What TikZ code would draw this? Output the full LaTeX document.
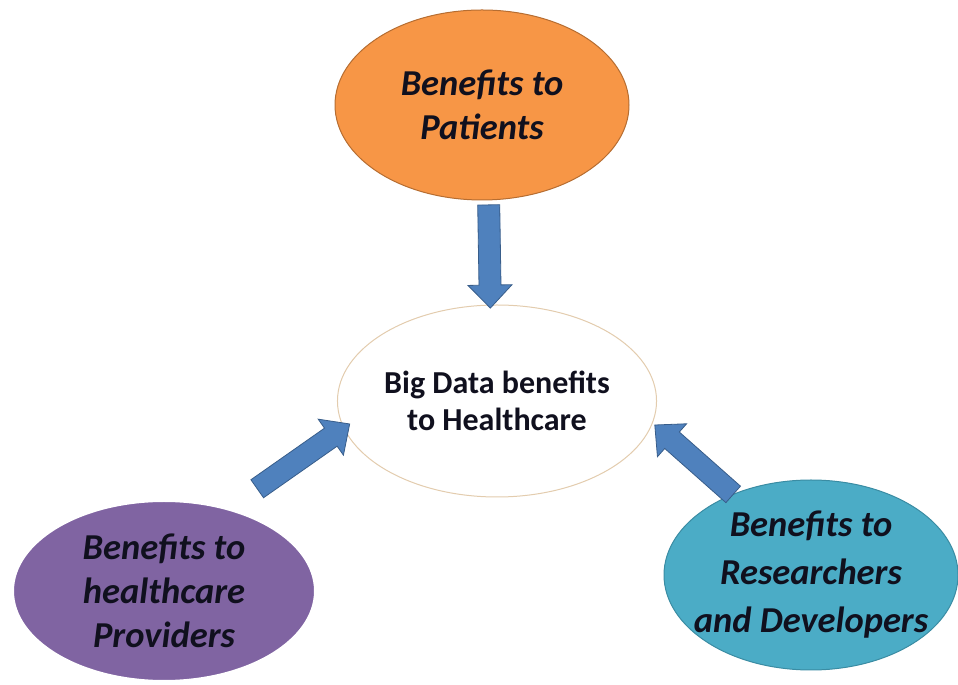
\documentclass[tikz,border=0pt]{standalone}
\usepackage{fontspec}
\setmainfont{Carlito}
\usetikzlibrary{calc,shapes.geometric}

\definecolor{patfill}{HTML}{F79646}
\definecolor{patedge}{HTML}{B66D31}
\definecolor{provfill}{HTML}{8064A2}
\definecolor{resfill}{HTML}{4BACC6}
\definecolor{resedge}{HTML}{3A8CA3}
\definecolor{hubedge}{HTML}{E3CCAE}
\definecolor{arrowfill}{HTML}{4F81BD}
\definecolor{arrowedge}{HTML}{385D8A}
\definecolor{ink}{HTML}{10101E}

\tikzset{
  blob/.style={ellipse, inner sep=0pt, outer sep=0pt, align=center, text=ink,
    font=\bfseries\itshape\fontsize{36.5}{44}\selectfont},
  hub/.style={ellipse, inner sep=0pt, outer sep=0pt, align=center, text=ink,
    fill=white, draw=hubedge, line width=1pt,
    font=\bfseries\fontsize{32}{37}\selectfont},
  tailgap/.store in=\tailgap, tipgap/.store in=\tipgap,
  tailgap=0pt, tipgap=0pt,
  % block arrow from start to target
  fatarrow/.style={fill=arrowfill, draw=arrowedge, line width=0.8pt,
    to path={let \p1=($(\tikztotarget)-(\tikztostart)$),
      \n1={atan2(\y1,\x1)},
      \n2={veclen(\x1,\y1)-(\tipgap)},
      \n3={veclen(\x1,\y1)-(\tipgap)-\headlen} in
      ($(\tikztostart)+(\n1:\tailgap)+(\n1+90:\shafthalf)$)
      -- ($(\tikztostart)+(\n1:\n3)+(\n1+90:\shafthalf)$)
      -- ($(\tikztostart)+(\n1:\n3)+(\n1+90:\headhalf)$)
      -- ($(\tikztostart)+(\n1:\n2)$)
      -- ($(\tikztostart)+(\n1:\n3)+(\n1-90:\headhalf)$)
      -- ($(\tikztostart)+(\n1:\n3)+(\n1-90:\shafthalf)$)
      -- ($(\tikztostart)+(\n1:\tailgap)+(\n1-90:\shafthalf)$) -- cycle}}
}

\begin{document}
\begin{tikzpicture}[x=1pt,y=1pt]

\def\shafthalf{11pt}
\def\headhalf{22pt}
\def\headlen{23pt}

\useasboundingbox (0,0) rectangle (958,685);

\node[blob, fill=patfill, draw=patedge, line width=1pt,
  minimum width=294pt, minimum height=190pt] (pat) at (482,580) {Benefits to\\Patients};
\node[hub, minimum width=302pt, minimum height=192pt] (big) at (497,284)
  {Big Data benefits\\to Healthcare};
\node[blob, fill=provfill, draw=white, line width=2pt,
  minimum width=302pt, minimum height=180pt] (prov) at (164,94)
  {Benefits to\\healthcare\\Providers};
\node[blob, fill=resfill, draw=resedge, line width=1pt, inner xsep=-24pt,
  font=\bfseries\itshape\fontsize{36.5}{48}\selectfont,
  minimum width=294pt, minimum height=190pt] (res) at (811,110)
  {Benefits to\\Researchers\\and Developers};

\draw[fatarrow, tailgap=5pt, tipgap=-3pt] (pat.274) to (big.94);
\draw[fatarrow, tailgap=36pt, tipgap=-7pt] (prov.52) to (big.190);
\draw[fatarrow, tailgap=0pt, tipgap=3pt] (res.134) to (big.352);

\end{tikzpicture}
\end{document}
